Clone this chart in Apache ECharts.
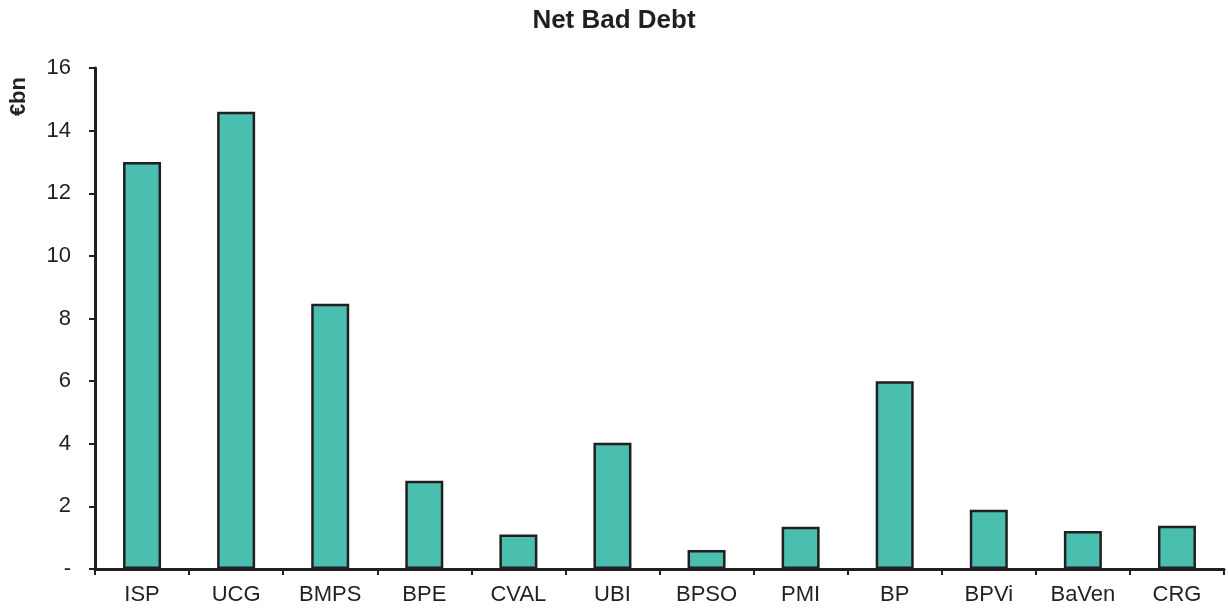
<!DOCTYPE html>
<html>
<head>
<meta charset="utf-8">
<script src="https://cdn.jsdelivr.net/npm/echarts@6/dist/echarts.min.js"></script>
<style>
  html, body { margin: 0; padding: 0; background: #fff; }
  #chart { width: 1228px; height: 608px; }
</style>
</head>
<body>
<div id="chart"></div>
<script>
// banks and net bad debt (EUR bn)
const banks = ["ISP", "UCG", "BMPS", "BPE", "CVAL", "UBI", "BPSO", "PMI", "BP", "BPVi", "BaVen", "CRG"];
const netBadDebt = [13.0, 14.6, 8.47, 2.82, 1.1, 4.03, 0.61, 1.35, 6.0, 1.89, 1.21, 1.38];
const yTicks = { min: 0, max: 16, step: 2 };

let chart = echarts.init(document.getElementById("chart"), null, { renderer: "canvas" });
const ink = "#231f20";
const font = "Liberation Sans, Arial, sans-serif";

let option = {
  backgroundColor: "#fff",
  animation: false,
  title: {
    text: "Net Bad Debt",
    left: "center",
    top: 3,
    textStyle: { fontFamily: font, fontSize: 26, fontWeight: "bold", color: ink },
  },
  graphic: [
    {
      type: "text",
      left: 8,
      top: 77,
      rotation: Math.PI / 2,
      style: { text: "€bn", font: "bold 22px " + font, fill: ink },
    },
  ],
  grid: { left: 95, right: 4, top: 68, bottom: 39, containLabel: false },
  xAxis: {
    type: "category",
    data: banks,
    axisLine: { lineStyle: { color: ink, width: 3 } },
    axisTick: { show: true, length: 6, lineStyle: { color: ink, width: 2 } },
    axisLabel: { fontFamily: font, fontSize: 22, color: ink, margin: 15 },
  },
  yAxis: {
    type: "value",
    min: yTicks.min,
    max: yTicks.max,
    interval: yTicks.step,
    splitLine: { show: false },
    axisLine: { show: true, lineStyle: { color: ink, width: 3 } },
    axisTick: { show: true, length: 6, lineStyle: { color: ink, width: 2 } },
    axisLabel: {
      fontFamily: font,
      fontSize: 22,
      color: ink,
      margin: 24,
      formatter: function (v) {
        return v === 0 ? "-" : String(v);
      },
    },
  },
  series: [
    {
      type: "bar",
      data: netBadDebt,
      barWidth: 38,
      itemStyle: { color: "#4bbfaf", borderColor: ink, borderWidth: 2.5 },
    },
  ],
};
chart.setOption(option);
</script>
</body>
</html>
